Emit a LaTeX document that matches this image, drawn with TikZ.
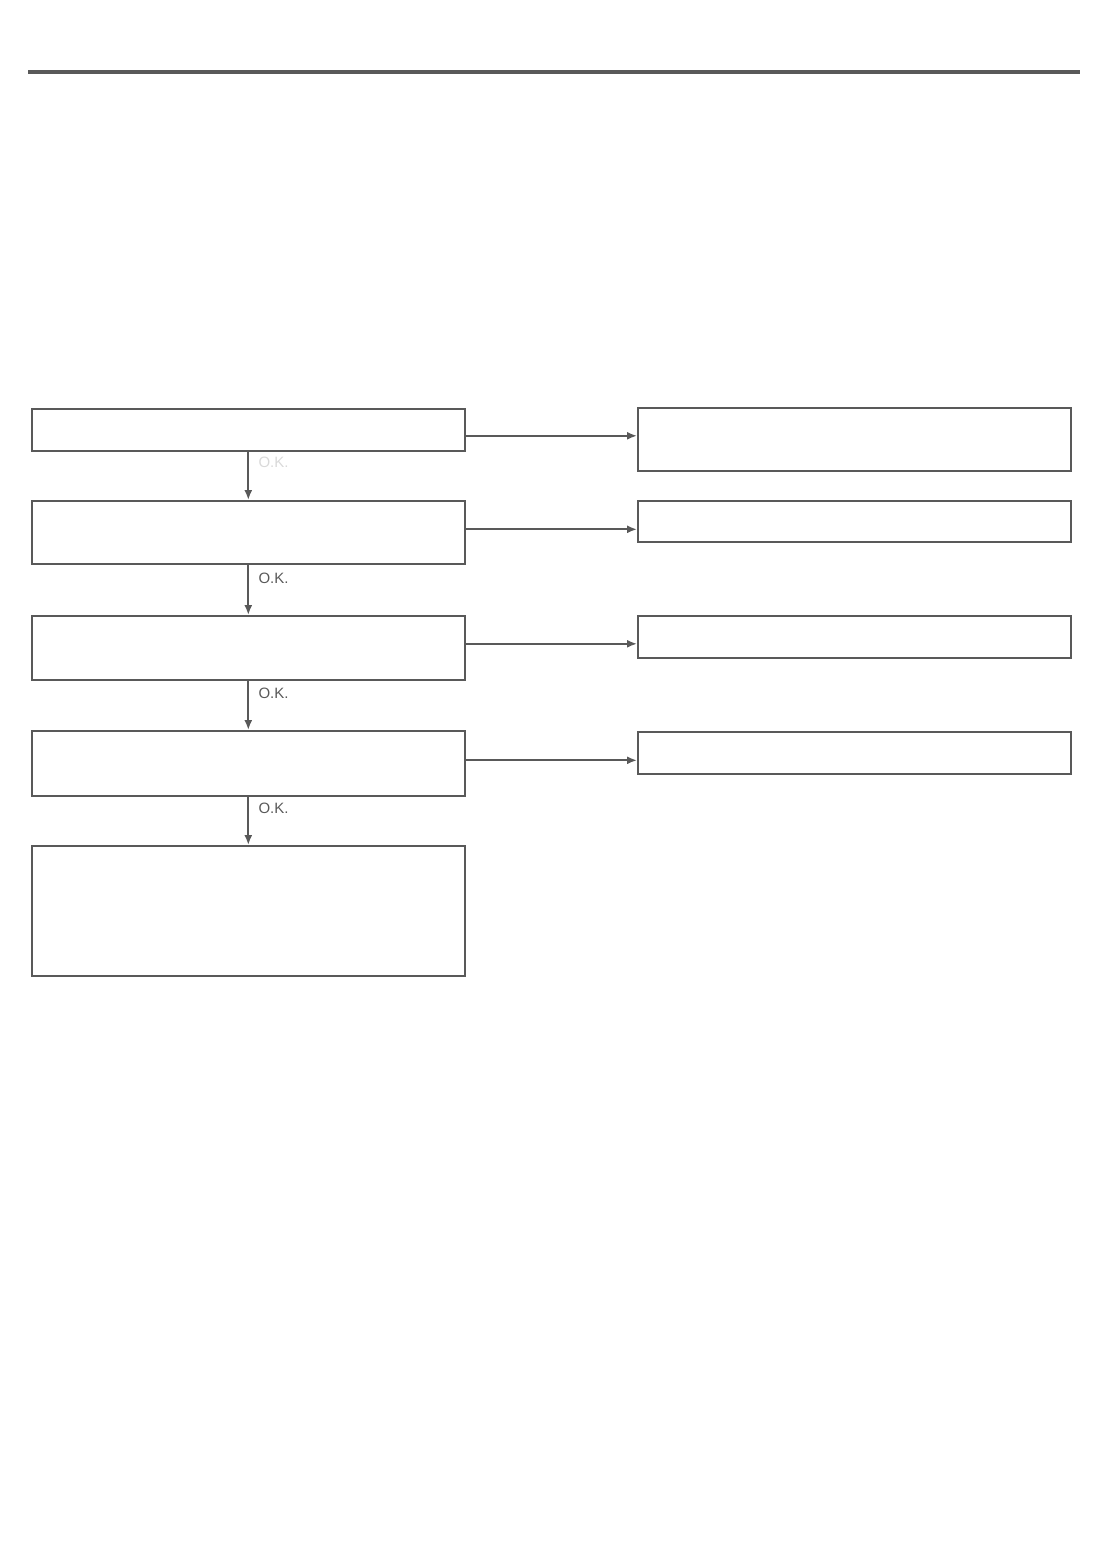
\documentclass[tikz,border=0pt]{standalone}
\usepackage{fontspec}
\setmainfont{Liberation Sans}
\usepackage{tikz}
\usetikzlibrary{positioning}
\usetikzlibrary{arrows.meta}
\definecolor{lineg}{gray}{0.35}
\definecolor{fadeg}{gray}{0.85}
\tikzset{
 chk/.style={draw=lineg,line width=1.6pt,inner sep=0pt,anchor=north west,minimum width=433pt},
 fix/.style={draw=lineg,line width=1.6pt,inner sep=0pt,anchor=north west,minimum width=433pt},
 go/.style={draw=lineg,line width=1.8pt,-{Latex[length=10pt,width=8pt]}},
 oklab/.style={font=\fontsize{15}{17}\selectfont,text=lineg,anchor=west}
}

\begin{document}
\begin{tikzpicture}[x=1pt,y=-1pt]
 \useasboundingbox (0,0) rectangle (1110,1565);
 \fill[lineg] (28,70.5) rectangle (1080,74.5);
 % left column
 \node[chk,minimum height=42pt] (b1) at (31,408) {};
 \node[chk,minimum height=63pt] (b2) at (31,500) {};
 \node[chk,minimum height=64pt] (b3) at (31,615) {};
 \node[chk,minimum height=65pt] (b4) at (31,730) {};
 \node[chk,minimum height=130pt] (b5) at (31,845) {};
 % right column
 \node[fix,minimum height=63pt] (r1) at (637,407) {};
 \node[fix,minimum height=41pt] (r2) at (637,500) {};
 \node[fix,minimum height=42pt] (r3) at (637,615) {};
 \node[fix,minimum height=42pt] (r4) at (637,731) {};
 \foreach \a/\b in {b1/b2,b2/b3,b3/b4,b4/b5}
  \draw[go] (\a.south) -- (\b.north);
 \foreach \a/\b/\s in {b1/r1/6,b2/r2/-3,b3/r3/-4,b4/r4/-3}
  \draw[go] ([yshift=-\s pt]\a.east) -- ([yshift=-\s pt]\a.east -| \b.west);
 \node[oklab,text=fadeg] (ok1) at (255,462) {O.K.};
 \node[oklab] (ok2) at (255,578) {O.K.};
 \node[oklab] (ok3) at (255,693) {O.K.};
 \node[oklab] (ok4) at (255,808) {O.K.};
\end{tikzpicture}
\end{document}
